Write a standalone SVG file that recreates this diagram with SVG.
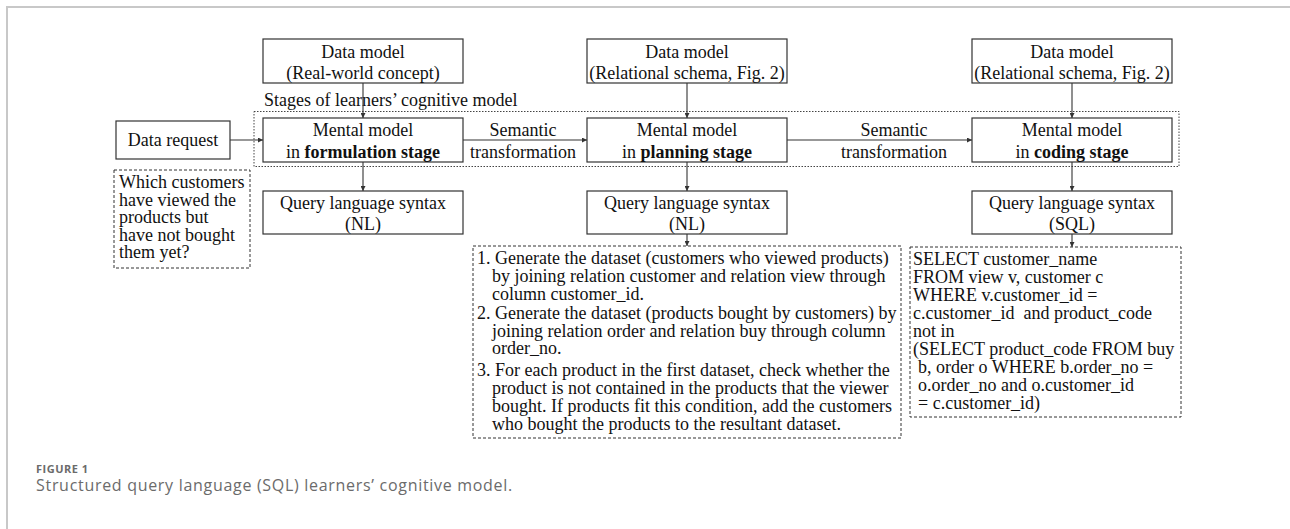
<svg xmlns="http://www.w3.org/2000/svg" width="1290" height="529" viewBox="0 0 1290 529">
  <style>
    .frame { stroke: #c8c8c8; stroke-width: 2; fill: none; }
    .box { fill: #fff; stroke: #333; stroke-width: 1.2; }
    .dash { fill: #fff; stroke: #333; stroke-width: 1; stroke-dasharray: 3 2; }
    .dot { fill: none; stroke: #444; stroke-width: 1; stroke-dasharray: 1.5 1.5; }
    .t { font-family: "Liberation Serif", "Times New Roman", serif; font-size: 18px; fill: #111; }
    .c { text-anchor: middle; }
    .b { font-weight: bold; }
    .conn { stroke: #333; stroke-width: 1.1; fill: none; marker-end: url(#arrow); }
    .cap { font-family: "Open Sans", "Noto Sans", sans-serif; fill: #6b6b6b; }
  </style>
  <defs>
    <marker id="arrow" viewBox="0 0 6 6" refX="6" refY="3" markerWidth="5" markerHeight="5" markerUnits="userSpaceOnUse" orient="auto">
      <path d="M0,0 L6,3 L0,6 z" fill="#333"/>
    </marker>
  </defs>

  <!-- page frame -->
  <path class="frame" d="M7,529 V7 H1290"/>

  <!-- stages container -->
  <g id="stages">
    <rect class="dot" x="254" y="111.5" width="925" height="55"/>
    <text class="t" x="264" y="106">Stages of learners’ cognitive model</text>
  </g>

  <!-- connectors -->
  <g id="connectors">
    <line class="conn" x1="363" y1="83" x2="363" y2="118"/>
    <line class="conn" x1="687" y1="83" x2="687" y2="118"/>
    <line class="conn" x1="1072" y1="83" x2="1072" y2="118"/>
    <line class="conn" x1="363" y1="162" x2="363" y2="191"/>
    <line class="conn" x1="687" y1="162" x2="687" y2="191"/>
    <line class="conn" x1="1072" y1="162" x2="1072" y2="191"/>
    <line class="conn" x1="687" y1="234" x2="687" y2="246"/>
    <line class="conn" x1="1072" y1="234" x2="1072" y2="247"/>
    <line class="conn" x1="230" y1="140" x2="263" y2="140"/>
    <line class="conn" x1="463" y1="140" x2="587" y2="140"/>
    <line class="conn" x1="787" y1="140" x2="972" y2="140"/>
    <text class="t c" x="523" y="136">Semantic</text>
    <text class="t c" x="523" y="158">transformation</text>
    <text class="t c" x="894" y="136">Semantic</text>
    <text class="t c" x="894" y="158">transformation</text>
  </g>

  <!-- data models -->
  <g id="data-model-1">
    <rect class="box" x="263" y="39" width="200" height="44"/>
    <text class="t c" x="363" y="57.5">Data model</text>
    <text class="t c" x="363" y="79">(Real-world concept)</text>
  </g>
  <g id="data-model-2">
    <rect class="box" x="587" y="39" width="200" height="44"/>
    <text class="t c" x="687" y="57.5">Data model</text>
    <text class="t c" x="687" y="79">(Relational schema, Fig. 2)</text>
  </g>
  <g id="data-model-3">
    <rect class="box" x="972" y="39" width="200" height="44"/>
    <text class="t c" x="1072" y="57.5">Data model</text>
    <text class="t c" x="1072" y="79">(Relational schema, Fig. 2)</text>
  </g>

  <!-- data request -->
  <g id="data-request">
    <rect class="box" x="116" y="121" width="114" height="38"/>
    <text class="t c" x="173" y="145.5">Data request</text>
  </g>
  <g id="request-example">
    <rect class="dash" x="114" y="170" width="136" height="98"/>
    <text class="t" x="119" y="188">Which customers</text>
    <text class="t" x="119" y="205.5">have viewed the</text>
    <text class="t" x="119" y="223">products but</text>
    <text class="t" x="119" y="240.5">have not bought</text>
    <text class="t" x="119" y="258">them yet?</text>
  </g>

  <!-- mental models -->
  <g id="mental-formulation">
    <rect class="box" x="263" y="118" width="200" height="44"/>
    <text class="t c" x="363" y="136">Mental model</text>
    <text class="t c" x="363" y="158">in <tspan class="b">formulation stage</tspan></text>
  </g>
  <g id="mental-planning">
    <rect class="box" x="587" y="118" width="200" height="44"/>
    <text class="t c" x="687" y="136">Mental model</text>
    <text class="t c" x="687" y="158">in <tspan class="b">planning stage</tspan></text>
  </g>
  <g id="mental-coding">
    <rect class="box" x="972" y="118" width="200" height="44"/>
    <text class="t c" x="1072" y="136">Mental model</text>
    <text class="t c" x="1072" y="158">in <tspan class="b">coding stage</tspan></text>
  </g>

  <!-- query language syntax -->
  <g id="syntax-1">
    <rect class="box" x="263" y="191" width="200" height="43"/>
    <text class="t c" x="363" y="208.5">Query language syntax</text>
    <text class="t c" x="363" y="230">(NL)</text>
  </g>
  <g id="syntax-2">
    <rect class="box" x="587" y="191" width="200" height="43"/>
    <text class="t c" x="687" y="208.5">Query language syntax</text>
    <text class="t c" x="687" y="230">(NL)</text>
  </g>
  <g id="syntax-3">
    <rect class="box" x="972" y="191" width="200" height="43"/>
    <text class="t c" x="1072" y="208.5">Query language syntax</text>
    <text class="t c" x="1072" y="230">(SQL)</text>
  </g>

  <!-- natural-language plan -->
  <g id="nl-plan">
    <rect class="dash" x="473" y="246" width="428" height="192"/>
    <text class="t" x="477" y="264">1.</text>
    <text class="t" x="495" y="264">Generate the dataset (customers who viewed products)</text>
    <text class="t" x="492" y="282">by joining relation customer and relation view through</text>
    <text class="t" x="492" y="300">column customer_id.</text>
    <text class="t" x="477" y="318.5">2.</text>
    <text class="t" x="495" y="318.5">Generate the dataset (products bought by customers) by</text>
    <text class="t" x="492" y="336.5">joining relation order and relation buy through column</text>
    <text class="t" x="492" y="354">order_no.</text>
    <text class="t" x="477" y="375.5">3.</text>
    <text class="t" x="495" y="375.5">For each product in the first dataset, check whether the</text>
    <text class="t" x="492" y="393.5">product is not contained in the products that the viewer</text>
    <text class="t" x="492" y="411.5">bought. If products fit this condition, add the customers</text>
    <text class="t" x="492" y="429.5">who bought the products to the resultant dataset.</text>
  </g>

  <!-- SQL query -->
  <g id="sql-query">
    <rect class="dash" x="910" y="247" width="271" height="170"/>
    <text class="t" x="913" y="265">SELECT customer_name</text>
    <text class="t" x="913" y="283">FROM view v, customer c</text>
    <text class="t" x="913" y="301">WHERE v.customer_id =</text>
    <text class="t" x="913" y="319" xml:space="preserve">c.customer_id  and product_code</text>
    <text class="t" x="913" y="337">not in</text>
    <text class="t" x="913" y="355">(SELECT product_code FROM buy</text>
    <text class="t" x="918" y="373">b, order o WHERE b.order_no =</text>
    <text class="t" x="918" y="391">o.order_no and o.customer_id</text>
    <text class="t" x="918" y="409">= c.customer_id)</text>
  </g>

  <!-- caption -->
  <g id="caption">
    <text class="cap" x="36" y="473" font-size="11" font-weight="bold" letter-spacing="0.5">FIGURE 1</text>
    <text class="cap" x="36" y="491" font-size="16" letter-spacing="0.7">Structured query language (SQL) learners’ cognitive model.</text>
  </g>
</svg>
